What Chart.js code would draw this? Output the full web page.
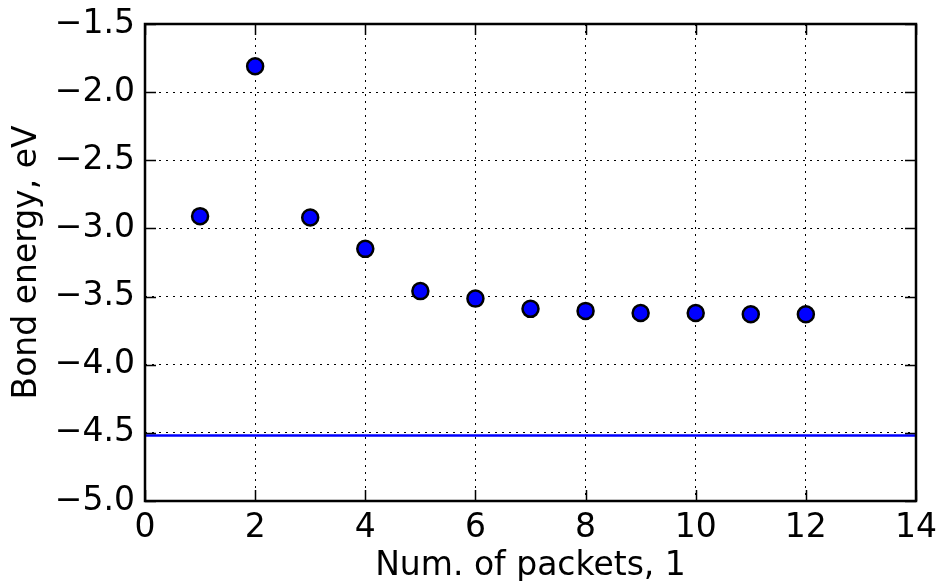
<!DOCTYPE html>
<html>
<head>
<meta charset="utf-8">
<script src="https://cdn.jsdelivr.net/npm/chart.js@4"></script>
<style>
  html, body { margin: 0; padding: 0; background: #fff; }
  #wrap { width: 938px; height: 581px; }
</style>
</head>
<body>
<div id="wrap"><canvas id="myChart"></canvas></div>
<script>
// Data
const packets = [1, 2, 3, 4, 5, 6, 7, 8, 9, 10, 11, 12];
const bondEnergy = [-2.91, -1.81, -2.92, -3.15, -3.46, -3.515, -3.59, -3.605, -3.62, -3.62, -3.63, -3.63];
const referenceX = [0, 14];
const referenceEnergy = -4.52;

const xTicks = [0, 2, 4, 6, 8, 10, 12, 14];
const yTicks = [-5.0, -4.5, -4.0, -3.5, -3.0, -2.5, -2.0, -1.5];

const FONT = "'DejaVu Sans', sans-serif";
const FSIZE = 33;

// matplotlib style: ticks inside and a closed box round the axes
const boxPlugin = {
  id: "box",
  afterDraw(chart) {
    const { ctx, chartArea: a, scales } = chart;
    ctx.save();
    ctx.strokeStyle = "#000";
    ctx.lineWidth = 1.5;
    ctx.beginPath();
    xTicks.forEach((v) => {
      const px = Math.round(scales.x.getPixelForValue(v)) + 0.5;
      ctx.moveTo(px, a.bottom); ctx.lineTo(px, a.bottom - 11);
      ctx.moveTo(px, a.top); ctx.lineTo(px, a.top + 11);
    });
    yTicks.forEach((v) => {
      const py = Math.round(scales.y.getPixelForValue(v)) + 0.5;
      ctx.moveTo(a.left, py); ctx.lineTo(a.left + 11, py);
      ctx.moveTo(a.right, py); ctx.lineTo(a.right - 11, py);
    });
    ctx.stroke();
    ctx.lineWidth = 2.5;
    ctx.strokeRect(a.left, a.top, a.right - a.left, a.bottom - a.top);
    ctx.restore();
  },
};

const minus = (s) => s.replace("-", "\u2212");

new Chart(document.getElementById("myChart"), {
  type: "scatter",
  data: {
    datasets: [
      {
        label: "reference",
        type: "line",
        data: referenceX.map((x) => ({ x: x, y: referenceEnergy })),
        borderColor: "#0000ff",
        borderWidth: 2.5,
        pointRadius: 0,
        fill: false,
      },
      {
        label: "bond energy",
        data: packets.map((x, i) => ({ x: x, y: bondEnergy[i] })),
        backgroundColor: "#0000ff",
        borderColor: "#000",
        borderWidth: 2.5,
        pointRadius: 8,
      },
    ],
  },
  options: {
    responsive: true,
    maintainAspectRatio: false,
    animation: false,
    layout: { padding: { left: 0, right: 22, top: 24, bottom: 0 } },
    plugins: { legend: { display: false }, tooltip: { enabled: false } },
    scales: {
      x: {
        type: "linear",
        min: 0,
        max: 14,
        afterFit: (s) => { s.height = 80; s.paddingLeft = 0; s.paddingRight = 0; },
        afterBuildTicks: (s) => { s.ticks = xTicks.map((v) => ({ value: v })); },
        ticks: {
          color: "#000",
          font: { family: FONT, size: FSIZE },
          padding: 8,
          maxRotation: 0,
          callback: (v) => minus(String(v)),
        },
        grid: { color: "#000", lineWidth: 1, drawTicks: false },
        border: { display: false, dash: [2, 5] },
        title: {
          display: true,
          text: "Num. of packets, 1",
          color: "#000",
          font: { family: FONT, size: FSIZE },
          padding: { top: 0, bottom: -5 },
        },
      },
      y: {
        min: -5,
        max: -1.5,
        afterFit: (s) => { s.width = 145; s.paddingTop = 0; s.paddingBottom = 0; },
        afterBuildTicks: (s) => { s.ticks = yTicks.map((v) => ({ value: v })); },
        ticks: {
          color: "#000",
          font: { family: FONT, size: FSIZE },
          padding: 10,
          callback: (v) => minus(Number(v).toFixed(1)),
        },
        grid: { color: "#000", lineWidth: 1, drawTicks: false },
        border: { display: false, dash: [2, 5] },
        title: {
          display: true,
          text: "Bond energy, eV",
          color: "#000",
          font: { family: FONT, size: FSIZE },
          padding: { top: 8, bottom: 0 },
        },
      },
    },
  },
  plugins: [boxPlugin],
});
</script>
</body>
</html>
